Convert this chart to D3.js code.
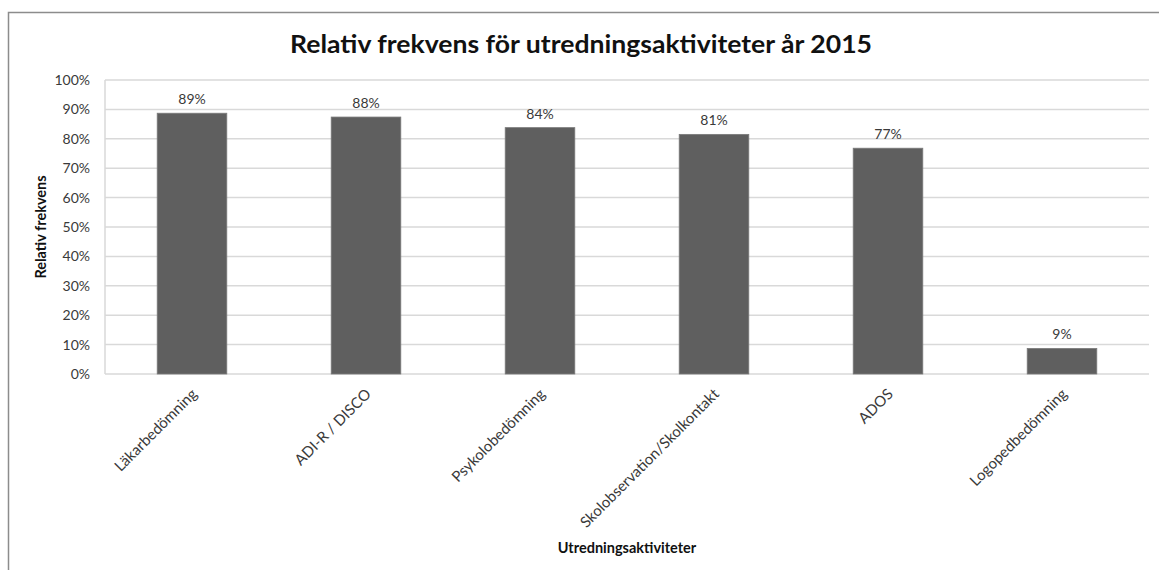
<!DOCTYPE html>
<html lang="sv">
<head>
<meta charset="UTF-8" />
<title>Relativ frekvens för utredningsaktiviteter år 2015</title>
<style>
    body { margin: 0; background: #fff; }
    text { font-family: Lato, "Open Sans", sans-serif; }
    .grid line { stroke: #d9d9d9; stroke-width: 1.5px; }
    .axis path { display: none; }
    .axis line { display: none; }
    .axis text { fill: #3a3a3a; font-size: 14px; }
    .x-axis text { font-size: 15px; }
    .bar { fill: #5f5f5f; stroke: #7a7a7a; stroke-width: 0.8px; }
    .bar-label { fill: #3a3a3a; font-size: 14px; }
    .title { font-weight: bold; font-size: 24px; fill: #111; }
    .axis-title { font-weight: bold; font-size: 14.5px; fill: #111; }
</style>
</head>
<body>
<div id="chart"></div>
<script src="https://cdn.jsdelivr.net/npm/d3@7"></script>
<script>
    const categories = ['Läkarbedömning', 'ADI-R / DISCO', 'Psykolobedömning', 'Skolobservation/Skolkontakt', 'ADOS', 'Logopedbedömning'];
    const values = [0.887, 0.874, 0.838, 0.815, 0.768, 0.087];
    const labels = ['89%', '88%', '84%', '81%', '77%', '9%'];
    const yTicks = [0, 0.1, 0.2, 0.3, 0.4, 0.5, 0.6, 0.7, 0.8, 0.9, 1.0];

    const width = 1159, height = 570;
    const margin = { top: 80, right: 10, bottom: 196, left: 105 };

    const svg = d3.select('#chart').append('svg')
        .attr('width', width)
        .attr('height', height);

    // yttre ram
    svg.append('rect')
        .attr('x', 8.5).attr('y', 12.5)
        .attr('width', width).attr('height', height)
        .attr('fill', 'none')
        .attr('stroke', '#8c8c8c')
        .attr('stroke-width', 1.5);

    const x = d3.scaleBand()
        .domain(categories)
        .range([margin.left, width - margin.right])
        .paddingInner(0.6)
        .paddingOuter(0.3);

    const y = d3.scaleLinear()
        .domain([0, 1])
        .range([height - margin.bottom, margin.top]);

    // rutnät
    svg.append('g')
        .attr('class', 'grid')
        .selectAll('line')
        .data(yTicks)
        .enter().append('line')
        .attr('x1', margin.left)
        .attr('x2', width - margin.right)
        .attr('y1', d => y(d))
        .attr('y2', d => y(d));

    svg.append('line')
        .attr('x1', margin.left).attr('x2', margin.left)
        .attr('y1', y(1)).attr('y2', y(0))
        .attr('stroke', '#d9d9d9').attr('stroke-width', 1.5);

    // y-axel
    svg.append('g')
        .attr('class', 'axis')
        .attr('transform', `translate(${margin.left},0)`)
        .call(d3.axisLeft(y).tickValues(yTicks).tickFormat(d3.format('.0%')).tickSize(0).tickPadding(15))
        .selectAll('text')
        .attr('font-family', null);

    // x-axel
    svg.append('g')
        .attr('class', 'axis x-axis')
        .attr('transform', `translate(0,${height - margin.bottom})`)
        .call(d3.axisBottom(x).tickSize(0).tickPadding(0))
        .selectAll('text')
        .attr('font-family', null)
        .attr('text-anchor', 'end')
        .attr('dy', null)
        .attr('transform', 'translate(6,21) rotate(-45)');

    // staplar
    svg.append('g')
        .selectAll('rect')
        .data(values)
        .enter().append('rect')
        .attr('class', 'bar')
        .attr('x', (d, i) => x(categories[i]))
        .attr('width', x.bandwidth())
        .attr('y', d => y(d))
        .attr('height', d => y(0) - y(d));

    svg.append('g')
        .selectAll('text')
        .data(values)
        .enter().append('text')
        .attr('class', 'bar-label')
        .attr('text-anchor', 'middle')
        .attr('x', (d, i) => x(categories[i]) + x.bandwidth() / 2)
        .attr('y', d => y(d) - 9)
        .text((d, i) => labels[i]);

    // titlar
    svg.append('text')
        .attr('class', 'title')
        .attr('x', 581)
        .attr('y', 53)
        .attr('text-anchor', 'middle')
        .attr('textLength', 582)
        .attr('lengthAdjust', 'spacingAndGlyphs')
        .text('Relativ frekvens för utredningsaktiviteter år 2015');

    svg.append('text')
        .attr('class', 'axis-title')
        .attr('text-anchor', 'middle')
        .attr('transform', `translate(46,${(y(0) + y(1)) / 2}) rotate(-90)`)
        .text('Relativ frekvens');

    svg.append('text')
        .attr('class', 'axis-title')
        .attr('text-anchor', 'middle')
        .attr('x', (margin.left + width - margin.right) / 2)
        .attr('y', 553)
        .text('Utredningsaktiviteter');
</script>
</body>
</html>
